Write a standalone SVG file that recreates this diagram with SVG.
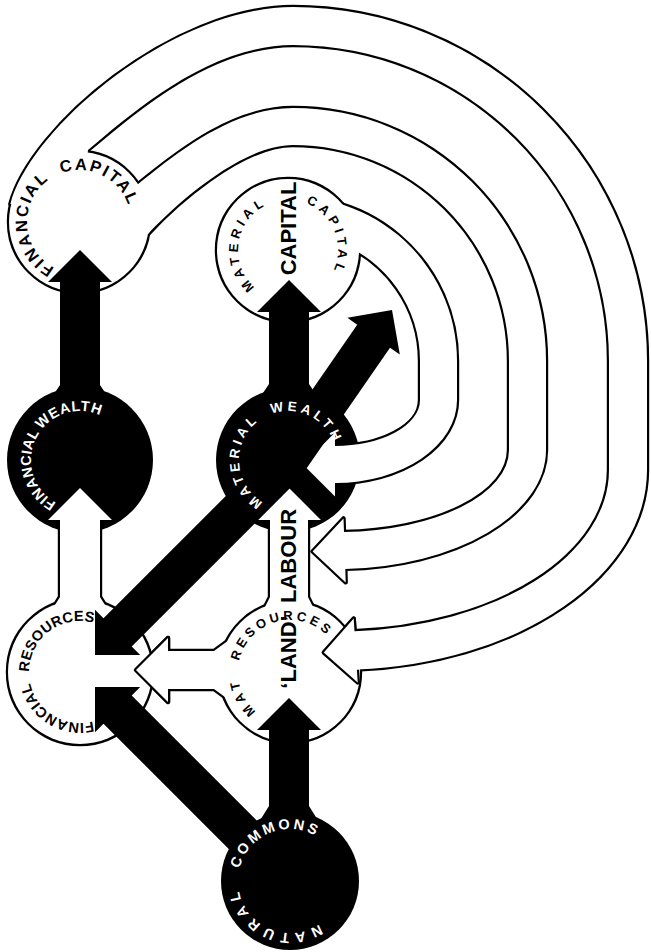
<svg xmlns="http://www.w3.org/2000/svg" xmlns:xlink="http://www.w3.org/1999/xlink" width="651" height="952" viewBox="0 0 651 952">
<style>
.outline{fill:none;stroke:#000;stroke-width:4.4;stroke-linejoin:round}
.wf{fill:#fff;stroke:none}
.bk{fill:#000;stroke:none}
text{font-family:'Liberation Sans',Arial,sans-serif}
.wt{fill:#fff}
.b16{font-size:16.5px;font-weight:bold;letter-spacing:2px}
.b14{font-size:14.5px;font-weight:bold}
.r13{font-size:13px;font-weight:bold}
.b13{font-size:13.5px;font-weight:bold;letter-spacing:3.6px}
.big{font-size:22px;font-weight:bold}
</style>
<defs>
<circle id="s-fc" cx="79" cy="222" r="70"/>
<circle id="s-mc" cx="288" cy="250" r="71"/>
<circle id="s-fr" cx="80" cy="672" r="72"/>
<circle id="s-mr" cx="290" cy="672" r="70"/>
<path id="f-c" d="M10.4,203.9 C31,127 173,7 293,7 A354,354 0 0 1 647,361 L647,470 A309,200 0 0 1 356.9,669.6 L357.7,682.4 L323.8,652.5 L353.7,618.6 L354.5,631.2 A271,161.5 0 0 0 609,470 L609,361 A316,316 0 0 0 293,45 C210,45 133.8,111.2 88,150 L79,222 Z"/>
<path id="f-b" d="M137,185 C182,148 235,108 293,108 A253,253 0 0 1 546,361 L546,450 A208,119 0 0 1 345.3,568.9 L345.7,582.4 L312.6,551.5 L343.5,518.4 L344,532 A171,82 0 0 0 509,450 L509,361 A216,216 0 0 0 293,145 C240,145 172,208 147.9,234.2 L79,222 Z"/>
<path id="f-a" d="M264.5,199.5 A164,164 0 0 1 457,361 L457,400 A122,83 0 0 1 335,483 L335,496.5 L303,464.5 L335,432.5 L335,446 A85,46 0 0 0 420,400 L420,361 A127,127 0 0 0 336.4,241.7 L288,250 Z"/>
<path id="w-frfw" d="M50,613 L60,597 L60,520 L48,520 L80,488 L112,520 L100,520 L100,597 L110,613 Z"/>
<path id="w-labour" d="M262,613 L270,597 L270,520 L257,520 L289,488 L321,520 L308,520 L308,597 L316,613 Z"/>
<path id="w-mrfr" d="M229,640 L214,651 L168,651 L168,638 L136,670 L168,702 L168,689 L214,689 L229,700 Z"/>
<path id="tp-fc" d="M131,222 A52,52 0 1 1 27,222 A52,52 0 1 1 131,222 A52,52 0 1 1 27,222 A52,52 0 1 1 131,222"/>
<path id="tp-mc" d="M338,250 A50,50 0 1 1 238,250 A50,50 0 1 1 338,250 A50,50 0 1 1 238,250 A50,50 0 1 1 338,250"/>
<path id="tp-fw" d="M129,460 A49,49 0 1 1 31,460 A49,49 0 1 1 129,460 A49,49 0 1 1 31,460 A49,49 0 1 1 129,460"/>
<path id="tp-mw" d="M337,460 A49,49 0 1 1 239,460 A49,49 0 1 1 337,460 A49,49 0 1 1 239,460 A49,49 0 1 1 337,460"/>
<path id="tp-fr" d="M131,672 A51,51 0 1 1 29,672 A51,51 0 1 1 131,672 A51,51 0 1 1 29,672 A51,51 0 1 1 131,672"/>
<path id="tp-mr" d="M342,672 A52,52 0 1 1 238,672 A52,52 0 1 1 342,672 A52,52 0 1 1 238,672 A52,52 0 1 1 342,672"/>
<path id="tp-nc" d="M342,881 A52,52 0 1 1 238,881 A52,52 0 1 1 342,881 A52,52 0 1 1 238,881 A52,52 0 1 1 342,881"/>
</defs>

<!-- black nodes -->
<g id="node-financial-wealth"><circle class="bk" cx="80" cy="460" r="73"/></g>
<g id="node-material-wealth"><circle class="bk" cx="288" cy="460" r="72"/></g>
<g id="node-natural-commons"><circle class="bk" cx="290" cy="881" r="69"/></g>

<!-- shared outline of all white shapes -->
<g id="white-outline" class="outline">
<use xlink:href="#s-fc"/><use xlink:href="#s-mc"/><use xlink:href="#s-fr"/><use xlink:href="#s-mr"/>
<use xlink:href="#f-c"/><use xlink:href="#f-b"/><use xlink:href="#f-a"/>
<use xlink:href="#w-frfw"/><use xlink:href="#w-labour"/><use xlink:href="#w-mrfr"/>
</g>

<!-- white nodes -->
<g id="node-financial-capital"><use class="wf" xlink:href="#s-fc"/></g>
<g id="node-material-capital"><use class="wf" xlink:href="#s-mc"/></g>
<g id="node-financial-resources"><use class="wf" xlink:href="#s-fr"/></g>
<g id="node-mat-resources"><use class="wf" xlink:href="#s-mr"/></g>

<!-- connectors -->
<g id="connectors">
<g id="head-outlines" class="outline">
<path d="M168,651 L168,638 L136,670 L168,702 L168,689"/>
<path d="M354.5,631.2 L353.7,618.6 L323.8,652.5 L357.7,682.4 L356.9,669.6"/>
</g>
<g id="white-flows" class="wf">
<use xlink:href="#f-c"/><use xlink:href="#f-b"/><use xlink:href="#f-a"/>
<use xlink:href="#w-frfw"/><use xlink:href="#w-labour"/><use xlink:href="#w-mrfr"/>
</g>
<g id="black-flows" class="bk">
<path d="M50,400 L60,385 L60,282 L48,282 L80,250 L112,282 L100,282 L100,385 L110,400 Z"/>
<path d="M259,399 L269,384 L269,312 L257,312 L289,280 L321,312 L309,312 L309,384 L319,399 Z"/>
<path d="M271.6,448.5 L357.2,324.7 L347.4,317.8 L392,310 L399.8,354.6 L390,347.7 L304.4,471.5 Z"/>
<path d="M275.9,445.9 L103.5,618.3 L95,609.8 L95,655 L140.2,655 L131.7,646.5 L304.1,474.1 Z"/>
<path d="M275.9,896.1 L103.5,723.7 L95,732.2 L95,687 L140.2,687 L131.7,695.5 L304.1,867.9 Z"/>
<path d="M259,822 L269,806 L269,730 L257,730 L289,698 L321,730 L309,730 L309,806 L319,822 Z"/>
</g>
</g>

<!-- labels -->
<g id="labels">
<g id="label-financial-capital" class="b16">
<text text-anchor="middle"><textPath xlink:href="#tp-fc" startOffset="160.2">FINANCIAL</textPath></text>
<text text-anchor="middle"><textPath xlink:href="#tp-fc" startOffset="268.6">CAPITAL</textPath></text>
</g>
<g id="label-material-capital">
<text class="r13" text-anchor="middle" letter-spacing="4.2"><textPath xlink:href="#tp-mc" startOffset="164.5">MATERIAL</textPath></text>
<text class="r13" text-anchor="middle" letter-spacing="4.2"><textPath xlink:href="#tp-mc" startOffset="295.8">CAPITAL</textPath></text>
<text class="big" text-anchor="middle" transform="translate(296,228.5) rotate(-90)">CAPITAL</text>
</g>
<g id="label-financial-wealth" class="b14 wt">
<text text-anchor="middle" letter-spacing="0.4"><textPath xlink:href="#tp-fw" startOffset="142.4">FINANCIAL</textPath></text>
<text text-anchor="middle" letter-spacing="0.8"><textPath xlink:href="#tp-fw" startOffset="218.9">WEALTH</textPath></text>
</g>
<g id="label-material-wealth" class="b13 wt">
<text text-anchor="middle"><textPath xlink:href="#tp-mw" startOffset="151.8">MATERIAL</textPath></text>
<text text-anchor="middle"><textPath xlink:href="#tp-mw" startOffset="252.7">WEALTH</textPath></text>
</g>
<g id="label-financial-resources" class="b14">
<text text-anchor="middle" letter-spacing="0.5"><textPath xlink:href="#tp-fr" startOffset="108.1">FINANCIAL</textPath></text>
<text text-anchor="middle" letter-spacing="0.2"><textPath xlink:href="#tp-fr" startOffset="206.9">RESOURCES</textPath></text>
</g>
<g id="label-mat-resources">
<text class="r13" text-anchor="middle" letter-spacing="4"><textPath xlink:href="#tp-mr" startOffset="137.9">MAT</textPath></text>
<text class="r13" text-anchor="middle" letter-spacing="3.5"><textPath xlink:href="#tp-mr" startOffset="231">RESOURCES</textPath></text>
<text class="big" text-anchor="middle" transform="translate(296,556) rotate(-90)">LABOUR</text>
<text class="big" text-anchor="middle" transform="translate(296,652) rotate(-90)">‘LAND’</text>
</g>
<g id="label-natural-commons" class="b14 wt">
<text text-anchor="middle" letter-spacing="5.5"><textPath xlink:href="#tp-nc" startOffset="104.4">NATURAL</textPath></text>
<text text-anchor="middle" letter-spacing="3"><textPath xlink:href="#tp-nc" startOffset="224.6">COMMONS</textPath></text>
</g>
</g>
</svg>
